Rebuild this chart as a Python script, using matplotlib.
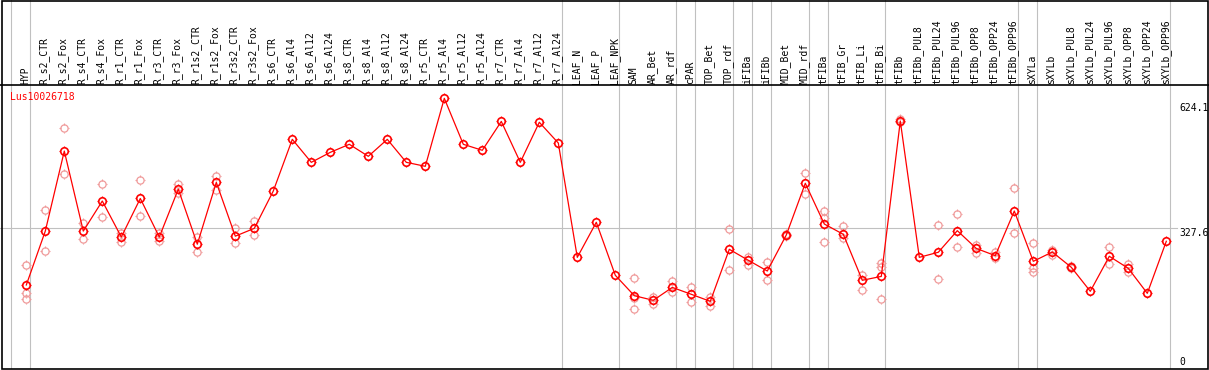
import matplotlib
matplotlib.use("Agg")
import matplotlib.pyplot as plt
from matplotlib.path import Path
import numpy as np

plt.rcParams['font.family'] = 'DejaVu Sans Mono'

gene = "Lus10026718"

labels = ["HYP",
          "R_s2_CTR", "R_s2_Fox", "R_s4_CTR", "R_s4_Fox", "R_r1_CTR", "R_r1_Fox",
          "R_r3_CTR", "R_r3_Fox", "R_r1s2_CTR", "R_r1s2_Fox", "R_r3s2_CTR", "R_r3s2_Fox",
          "R_s6_CTR", "R_s6_Al4", "R_s6_Al12", "R_s6_Al24", "R_s8_CTR", "R_s8_Al4",
          "R_s8_Al12", "R_s8_Al24", "R_r5_CTR", "R_r5_Al4", "R_r5_Al12", "R_r5_Al24",
          "R_r7_CTR", "R_r7_Al4", "R_r7_Al12", "R_r7_Al24",
          "LEAF_N", "LEAF_P", "LEAF_NPK",
          "SAM", "AR_Bet", "AR_rdf", "cPAR", "TOP_Bet", "TOP_rdf", "iFIBa", "iFIBb",
          "MID_Bet", "MID_rdf", "tFIBa", "tFIB_Gr", "tFIB_Li", "tFIB_Bi", "tFIBb",
          "tFIBb_PUL8", "tFIBb_PUL24", "tFIBb_PUL96", "tFIBb_OPP8", "tFIBb_OPP24", "tFIBb_OPP96",
          "sXYLa", "sXYLb", "sXYLb_PUL8", "sXYLb_PUL24", "sXYLb_PUL96",
          "sXYLb_OPP8", "sXYLb_OPP24", "sXYLb_OPP96"]

means = [193.7, 321, 510, 321, 392, 307, 398, 307, 420, 290, 436, 309, 327.5,
         415.7, 537.7, 483.4, 507, 526, 497.6, 537.7, 483.4, 474, 634.6, 526, 511.8,
         580, 483.4, 578, 529, 259, 341.8, 216.6, 168.4, 157.5, 188, 171.7, 155,
         278, 252, 226.7, 311.8, 433.9, 337.7, 313.4, 204.8, 214, 581, 259, 271,
         322, 280, 263, 368.4, 249.6, 271.6, 235.5, 178.8, 261.5, 233, 174, 296.9]

# replicate samples (sample index, value)
rep_idx = [0, 0, 0, 1, 1, 2, 2, 3, 3, 4, 4, 5, 5, 6, 6, 7, 7, 8, 8, 9, 9, 10, 10,
           11, 11, 12, 12, 32, 32, 32, 33, 33, 34, 34, 35, 35, 36, 36, 37, 37,
           38, 38, 39, 39, 40, 40, 41, 41, 42, 42, 42, 43, 43, 44, 44, 45, 45, 45,
           46, 46, 48, 48, 49, 49, 50, 50, 51, 51, 52, 52, 53, 53, 53, 54, 54,
           55, 55, 57, 57, 58, 58]
rep_vals = [240, 175.5, 160, 371, 274, 564, 456, 339, 301.6, 431.5, 353.6, 316, 296,
            441.7, 356.6, 316, 298, 432, 410, 307, 272, 451, 418, 328, 292, 345.5, 311,
            209.5, 162, 136, 166, 148, 203, 176.4, 188, 154, 166, 144, 325, 228,
            260.5, 241, 248, 204.8, 315, 309, 457.5, 408, 368, 351, 296, 333, 304,
            217, 181, 246, 235.5, 160, 585, 578, 334.7, 207, 362, 282.7, 289, 270,
            271, 258, 422, 316, 292, 233, 224, 265, 276, 238, 233, 282.7, 242.6,
            242.6, 225]

# group ends (index of last sample before a separator)
group_ends = [-1, 0, 28, 31, 34, 35, 37, 38, 39, 41, 42, 45, 52, 53, 60]

ticks = [624.1, 327.6]
ref_line = 327.6

W, H = 1209, 370
fig = plt.figure(figsize=(W / 100, H / 100), dpi=100)

x = np.arange(len(labels))
xlim = (-26.3 / 19, (W - 26.3) / 19)
ax_top = 85
ax_bot = 369.3
k = 0.4234
zero_y = 367

ax = fig.add_axes([0, (H - ax_bot) / H, 1, (ax_bot - ax_top) / H])
ax.set_xlim(*xlim)
ax.set_ylim(-(ax_bot - zero_y) / k, (zero_y - ax_top) / k)
ax.axis('off')

hd = fig.add_axes([0, (H - ax_top) / H, 1, ax_top / H])
hd.set_xlim(*xlim)
hd.set_ylim(ax_top, 0)
hd.axis('off')

# little ticks sticking out of the circle markers
tick_mark = Path([(0, 0.7), (0, 1), (0, -0.7), (0, -1), (0.7, 0), (1, 0), (-0.7, 0), (-1, 0)],
                 [Path.MOVETO, Path.LINETO] * 4)

grey = '#c0c0c0'
for g in group_ends:
    ax.axvline(g + 4 / 19, color=grey, lw=0.8)
    hd.axvline(g + 4 / 19, color=grey, lw=0.8)
ax.axhline(ref_line, xmin=0, xmax=1177 / W, color=grey, lw=0.8)

rep_c = '#f09a9a'
ax.plot(rep_idx, rep_vals, ls='none', marker='o', ms=5.2, mfc='none',
        mec=rep_c, mew=0.9, zorder=2)
ax.plot(rep_idx, rep_vals, ls='none', marker=tick_mark, ms=7.2, mec=rep_c, mew=0.8, zorder=2)

ax.plot(x, means, color='red', lw=0.9, zorder=3)
ax.plot(x, means, ls='none', marker=tick_mark, ms=7.6, mec='red', mew=0.9, zorder=4)
ax.plot(x, means, ls='none', marker='o', ms=5.4, mfc='none', mec='red', mew=1.2, zorder=4)

for i, lab in enumerate(labels):
    hd.text(i - 0.05, 83.5, lab, rotation=90, ha='center', va='bottom', fontsize=7)

tr = ax.get_yaxis_transform()
for t in ticks:
    ax.text(1179 / W, t, f"{t}", transform=tr, ha='left', va='top', fontsize=7)
ax.text(1179 / W, 0, "0", transform=tr, ha='left', va='bottom', fontsize=7)

fig.text(10 / W, 1 - 97 / H, gene, color='red', ha='left', va='center', fontsize=7)

# frame
fig.add_artist(plt.Line2D([0, 1], [1 - ax_top / H] * 2, color='black', lw=1.2))
fig.add_artist(plt.Rectangle((1.5 / W, 0.7 / H), (W - 2.5) / W, (H - 1.4) / H,
                             fill=False, ec='black', lw=1.2))

fig.savefig('out.png', dpi=100)
